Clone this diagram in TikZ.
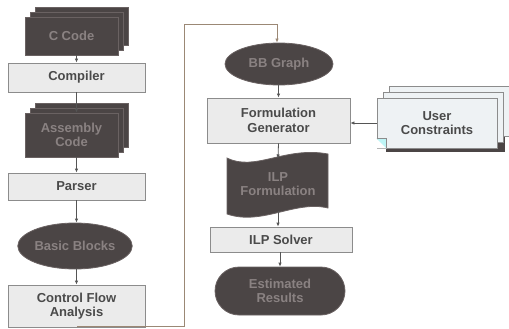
\documentclass[tikz,border=0pt]{standalone}
\usepackage{fontspec}
\setmainfont{Liberation Sans}
\usetikzlibrary{arrows.meta,shapes.geometric,shadows}
\definecolor{darkfill}{HTML}{4B4545}
\definecolor{darkedge}{HTML}{6A6262}
\definecolor{darktext}{HTML}{8A8282}
\definecolor{boxfill}{HTML}{EBEBEB}
\definecolor{boxedge}{HTML}{8C8C8C}
\definecolor{boxtext}{HTML}{4A4A4A}
\definecolor{ucfill}{HTML}{EEF2F4}
\definecolor{lineclr}{HTML}{555555}
\tikzset{
  lbl/.style={font=\bfseries\fontsize{13}{14.5}\selectfont, align=center},
  procbox/.style={lbl, draw=boxedge, fill=boxfill, text=boxtext, line width=0.8pt, inner sep=0pt},
  darkshape/.style={lbl, draw=darkedge, fill=darkfill, text=darktext, line width=0.8pt, inner sep=0pt},
  stackdoc/.style={darkshape, double copy shadow={shadow xshift=5pt, shadow yshift=5pt, fill=darkfill, draw=darkedge}},
  arr/.style={draw=lineclr, line width=0.8pt, -{Latex[length=4pt,width=3.5pt]}},
}
\begin{document}
\begin{tikzpicture}[x=1pt,y=-1pt]
\useasboundingbox (0,0) rectangle (509,329);
% left column
\node[stackdoc, minimum width=93pt, minimum height=38pt] (ccode) at (71.5,36) {C Code};
\node[procbox, minimum width=137pt, minimum height=29pt] (comp) at (76.5,77.5) {Compiler};
\node[stackdoc, minimum width=93pt, minimum height=44pt] (asm) at (71.5,135) {Assembly\\Code};
\node[procbox, minimum width=137pt, minimum height=27pt] (parser) at (76.5,186.5) {Parser};
\node[darkshape, ellipse, minimum width=104pt, minimum height=46pt] (bb) at (75,246) {Basic Blocks};
\node[procbox, minimum width=137pt, minimum height=42pt] (cfa) at (76.5,306) {Control Flow\\Analysis};
% right column
\node[darkshape, ellipse, minimum width=108pt, minimum height=42pt] (bbg) at (279,64) {BB Graph};
\node[procbox, minimum width=143pt, minimum height=45pt] (fg) at (278.5,120.5) {Formulation\\Generator};
\fill[darkfill, draw=darkedge, line width=0.8pt]
  (227,158) .. controls (255,172) and (285,146) .. (328,154)
  -- (328,208) .. controls (295,200) and (262,226) .. (227,214) -- cycle;
\node[lbl, text=darktext] (ilpf) at (278,184) {ILP\\Formulation};
\coordinate (ilpftop) at (278,158.5);
\coordinate (ilpfbot) at (278,211);
\node[procbox, minimum width=142pt, minimum height=25pt] (solver) at (281,239.5) {ILP Solver};
\node[darkshape, rounded corners=24pt, minimum width=130pt, minimum height=48pt] (est) at (280,291) {Estimated\\Results};
% user constraints
\fill[darkfill] (386,100) rectangle (505,152);
\node[lbl, draw=boxedge, fill=ucfill, text=boxtext, line width=0.8pt, inner sep=0pt,
  minimum width=120pt, minimum height=50pt,
  double copy shadow={shadow xshift=6pt, shadow yshift=6pt, fill=ucfill, draw=boxedge}] (uc) at (437,123) {User\\Constraints};
\fill[white] (uc.south west) -- ++(0,-10) -- ++(10,10) -- cycle;
\draw[draw=boxedge, fill=ucfill!80!cyan, line width=0.6pt] ([yshift=10pt]uc.south west) -- ++(10,0) -- ++(0,10);
% connectors
\draw[arr] (ccode.south -| comp.north) -- (comp.north);
\draw[arr] (comp.south) -- (asm.north -| comp.south);
\draw[arr] (asm.south -| parser.north) -- (parser.north);
\draw[arr] (parser.south) -- (bb.north -| parser.south);
\draw[arr] (bb.south -| cfa.north) -- (cfa.north);
\coordinate (c1) at (77,326);
\coordinate (c2) at (184,326);
\coordinate (c3) at (184,24);
\coordinate (c4) at (277,24);
\draw[arr, draw=boxedge!70!brown] (cfa.south -| c1) -- (c1) -- (c2) -- (c3) -- (c4) -- (bbg.north -| c4);
\draw[arr] (bbg.south -| fg.north) -- (fg.north);
\draw[arr] (fg.south) -- (ilpftop);
\draw[arr] (ilpfbot) -- (solver.north -| ilpfbot);
\draw[arr] (solver.south -| est.north) -- (est.north);
\draw[arr] (uc.west) -- (uc.west -| fg.east);
\end{tikzpicture}
\end{document}
